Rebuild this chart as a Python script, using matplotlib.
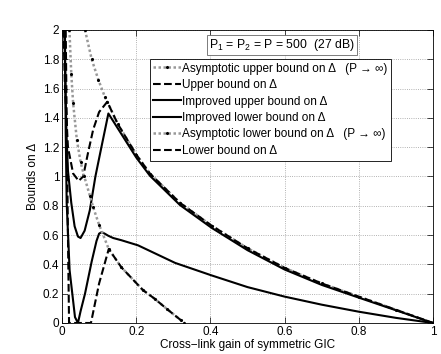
import matplotlib
matplotlib.use('Agg')
import matplotlib.pyplot as plt

plt.rcParams['font.family'] = ['Liberation Sans', 'DejaVu Sans']
plt.rcParams['mathtext.default'] = 'regular'

# values
asym_up_x = [0.062, 0.08, 0.098, 0.116, 0.122, 0.15, 0.2, 0.237, 0.318, 0.403, 0.5, 0.601, 0.7, 0.8, 0.9, 1.0]
asym_up_y = [2.0, 1.8, 1.66, 1.54, 1.51, 1.36, 1.15, 1.02, 0.82, 0.665, 0.51, 0.375, 0.27, 0.18, 0.09, 0.0]

upper_x = [0.004, 0.008, 0.016, 0.03, 0.045, 0.057, 0.07, 0.084, 0.1, 0.122, 0.15, 0.2, 0.237, 0.318, 0.403, 0.5, 0.601, 0.7, 0.8, 0.9, 1.0]
upper_y = [2.0, 1.6, 1.2, 1.02, 0.97, 1.0, 1.16, 1.32, 1.44, 1.51, 1.36, 1.15, 1.02, 0.82, 0.665, 0.51, 0.375, 0.27, 0.18, 0.09, 0.0]

imp_up_x = [0.006, 0.012, 0.016, 0.025, 0.034, 0.043, 0.05, 0.061, 0.075, 0.09, 0.107, 0.125, 0.15, 0.2, 0.237, 0.318, 0.403, 0.5, 0.6, 0.7, 0.8, 0.9, 1.0]
imp_up_y = [2.0, 1.3, 1.04, 0.82, 0.66, 0.59, 0.58, 0.63, 0.77, 1.0, 1.21, 1.43, 1.33, 1.13, 1.005, 0.805, 0.65, 0.497, 0.365, 0.26, 0.173, 0.087, 0.0]

imp_lo_x = [0.008, 0.01, 0.0126, 0.0205, 0.035, 0.043, 0.05, 0.062, 0.08, 0.093, 0.1, 0.107, 0.115, 0.125, 0.138, 0.16, 0.205, 0.305, 0.403, 0.5, 0.6, 0.7, 0.8, 0.9, 1.0]
imp_lo_y = [2.0, 1.3, 0.82, 0.36, 0.04, 0.0, 0.08, 0.2, 0.42, 0.56, 0.61, 0.62, 0.61, 0.595, 0.58, 0.565, 0.53, 0.41, 0.325, 0.245, 0.18, 0.125, 0.077, 0.035, 0.0]

asym_lo_x = [0.02, 0.025, 0.03, 0.04, 0.05, 0.06, 0.075, 0.084, 0.1, 0.126, 0.16, 0.218, 0.25, 0.283, 0.32, 0.33]
asym_lo_y = [2.0, 1.7, 1.5, 1.25, 1.1, 1.0, 0.87, 0.79, 0.67, 0.505, 0.38, 0.225, 0.165, 0.095, 0.02, 0.0]

lower_x = [0.01, 0.013, 0.016, 0.018, 0.019, 0.078, 0.1, 0.126, 0.16, 0.218, 0.25, 0.283, 0.32, 0.33]
lower_y = [2.0, 1.3, 0.6, 0.2, 0.0, 0.0, 0.27, 0.505, 0.38, 0.225, 0.165, 0.095, 0.02, 0.0]

labels = [
    'Asymptotic upper bound on Δ   (P → ∞)',
    'Upper bound on Δ',
    'Improved upper bound on Δ',
    'Improved lower bound on Δ',
    'Asymptotic lower bound on Δ   (P → ∞)',
    'Lower bound on Δ',
]

fig = plt.figure(figsize=(4.41, 3.54), dpi=100)
ax = fig.add_axes([0.1406, 0.0876, 0.8413, 0.8277])

asym_style = dict(color='0.6', linestyle=(0, (1, 1)), linewidth=1.8, marker='.', markersize=2.5,
                  markerfacecolor='k', markeredgecolor='k')
ax.plot(asym_up_x, asym_up_y, label=labels[0], **asym_style)
ax.plot(upper_x, upper_y, 'k--', linewidth=1.5, label=labels[1])
ax.plot(imp_up_x, imp_up_y, 'k-', linewidth=1.5, label=labels[2])
ax.plot(imp_lo_x, imp_lo_y, 'k-', linewidth=1.5, label=labels[3])
ax.plot(asym_lo_x, asym_lo_y, label=labels[4], **asym_style)
ax.plot(lower_x, lower_y, 'k--', linewidth=1.5, label=labels[5])

ax.set_xlim(0, 1)
ax.set_ylim(0, 2)
ax.set_xticks([0, 0.2, 0.4, 0.6, 0.8, 1])
ax.set_xticklabels(['0', '0.2', '0.4', '0.6', '0.8', '1'])
ax.set_yticks([0, 0.2, 0.4, 0.6, 0.8, 1, 1.2, 1.4, 1.6, 1.8, 2])
ax.set_yticklabels(['0', '0.2', '0.4', '0.6', '0.8', '1', '1.2', '1.4', '1.6', '1.8', '2'])
ax.tick_params(direction='in', top=True, right=True, labelsize=8.5, length=4, width=0.5, pad=2)
ax.grid(True, linestyle=':', color='0.6', linewidth=0.6)
for s in ax.spines.values():
    s.set_linewidth(0.6)

ax.set_xlabel('Cross−link gain of symmetric GIC', fontsize=8.5, labelpad=1)
ax.set_ylabel('Bounds on Δ', fontsize=8.5, labelpad=3)

leg = ax.legend(loc='upper left', bbox_to_anchor=(0.237, 0.901), borderaxespad=0,
                fontsize=8.5, fancybox=False, framealpha=1, edgecolor='k',
                handlelength=2.3, handletextpad=0.1, labelspacing=0.38,
                borderpad=0.3, numpoints=1)
leg.get_frame().set_linewidth(0.6)

ax.text(0.397, 0.976, 'P$_1$ = P$_2$ = P = 500  (27 dB)', transform=ax.transAxes,
        fontsize=8.8, va='top', ha='left',
        bbox=dict(boxstyle='square,pad=0.2', fc='white', ec='0.4', lw=0.6))

fig.savefig('out.png', dpi=100)
